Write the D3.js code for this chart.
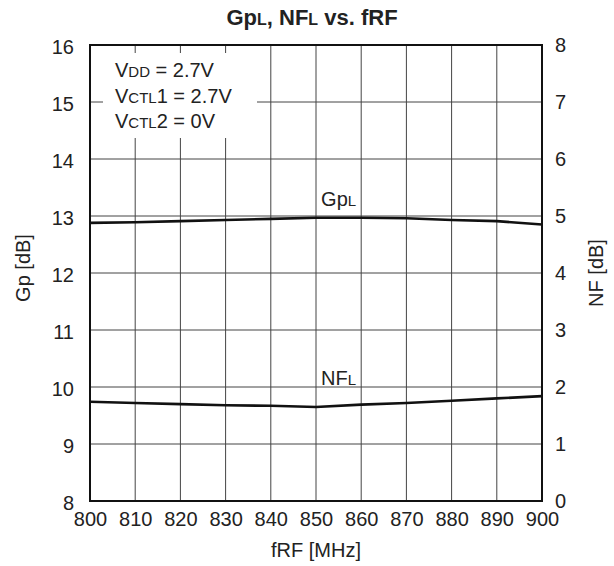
<!DOCTYPE html>
<html><head><meta charset="utf-8">
<script src="https://cdn.jsdelivr.net/npm/d3@7"></script>
<style>body{margin:0;background:#fff}svg{display:block}text{font-family:"Liberation Sans",Arial,sans-serif;fill:#222}</style>
</head><body>
<script>
const freqs = [800,810,820,830,840,850,860,870,880,890,900];
const gpValues = [12.88,12.89,12.91,12.93,12.95,12.97,12.97,12.96,12.93,12.91,12.85];
const nfValues = [1.74,1.72,1.70,1.68,1.67,1.65,1.69,1.72,1.76,1.80,1.84];
const xTicks = [800,810,820,830,840,850,860,870,880,890,900];
const gpTicks = [8,9,10,11,12,13,14,15,16];
const nfTicks = [0,1,2,3,4,5,6,7,8];

const W=614,H=566, L=90,R=542,T=45,B=501;
const FS=20;
const svg=d3.select("body").append("svg").attr("width",W).attr("height",H);
const x=d3.scaleLinear().domain([800,900]).range([L,R]);
const yL=d3.scaleLinear().domain([8,16]).range([B,T]);
const yR=d3.scaleLinear().domain([0,8]).range([B,T]);

// grid
const g=svg.append("g");
g.selectAll(".vx").data(xTicks.slice(1,-1)).join("line")
 .attr("x1",d=>x(d)).attr("x2",d=>x(d)).attr("y1",T).attr("y2",B)
 .attr("stroke","#444").attr("stroke-width",1);
g.selectAll(".hy").data(gpTicks.slice(1,-1)).join("line")
 .attr("x1",L).attr("x2",R).attr("y1",d=>yL(d)).attr("y2",d=>yL(d))
 .attr("stroke","#444").attr("stroke-width",1);

// legend box (white)
svg.append("rect").attr("x",103).attr("y",53).attr("width",154).attr("height",85).attr("fill","#fff");
const cond=[["V","DD"," = 2.7V"],["V","CTL","1 = 2.7V"],["V","CTL","2 = 0V"]];
cond.forEach((c,i)=>{
  const t=svg.append("text").attr("x",115).attr("y",77+i*25.5).attr("font-size",FS);
  t.append("tspan").text(c[0]);
  t.append("tspan").attr("font-size",15).text(c[1]);
  t.append("tspan").text(c[2]);
});

// lines
const lineGp=d3.line().x((d,i)=>x(freqs[i])).y(d=>yL(d));
const lineNf=d3.line().x((d,i)=>x(freqs[i])).y(d=>yR(d));
svg.append("path").attr("d",lineGp(gpValues)).attr("fill","none").attr("stroke","#111").attr("stroke-width",2.6);
svg.append("path").attr("d",lineNf(nfValues)).attr("fill","none").attr("stroke","#111").attr("stroke-width",2.6);

// frame
svg.append("rect").attr("x",L).attr("y",T).attr("width",R-L).attr("height",B-T)
 .attr("fill","none").attr("stroke","#111").attr("stroke-width",2);

// axes labels
const axL=d3.axisLeft(yL).tickValues(gpTicks).tickSize(0).tickPadding(16);
const axR=d3.axisRight(yR).tickValues(nfTicks).tickSize(0).tickPadding(13);
const axB=d3.axisBottom(x).tickValues(xTicks).tickSize(0).tickPadding(11);
function style(sel){sel.select(".domain").remove();sel.selectAll("text").attr("font-size",FS).attr("font-family","'Liberation Sans',Arial,sans-serif").attr("fill","#222");}
svg.append("g").attr("transform",`translate(${L},0)`).call(axL).call(style).selectAll("text").attr("dy","0.4em");
svg.append("g").attr("transform",`translate(${R},0)`).call(axR).call(style).selectAll("text").attr("dy","0.3em");
svg.append("g").attr("transform",`translate(0,${B})`).call(axB).call(style);

// titles
const tt=svg.append("text").attr("x",312).attr("y",25).attr("text-anchor","middle").attr("font-size",22).attr("font-weight","bold");
tt.append("tspan").text("Gp");tt.append("tspan").attr("font-size",16).text("L");
tt.append("tspan").text(", NF");tt.append("tspan").attr("font-size",16).text("L");
tt.append("tspan").text(" vs. fRF");
svg.append("text").attr("x",316).attr("y",557).attr("text-anchor","middle").attr("font-size",FS).text("fRF [MHz]");
svg.append("text").attr("transform","translate(30,268) rotate(-90)").attr("text-anchor","middle").attr("font-size",FS).text("Gp [dB]");
svg.append("text").attr("transform","translate(603,273) rotate(-90)").attr("text-anchor","middle").attr("font-size",FS).text("NF [dB]");

// series labels
const lg=svg.append("text").attr("x",x(855)).attr("y",yL(13.17)).attr("text-anchor","middle").attr("font-size",FS);
lg.append("tspan").text("Gp");lg.append("tspan").attr("font-size",15).text("L");
const ln=svg.append("text").attr("x",x(855)).attr("y",yR(2.04)).attr("text-anchor","middle").attr("font-size",FS);
ln.append("tspan").text("NF");ln.append("tspan").attr("font-size",15).text("L");
</script>
</body></html>
